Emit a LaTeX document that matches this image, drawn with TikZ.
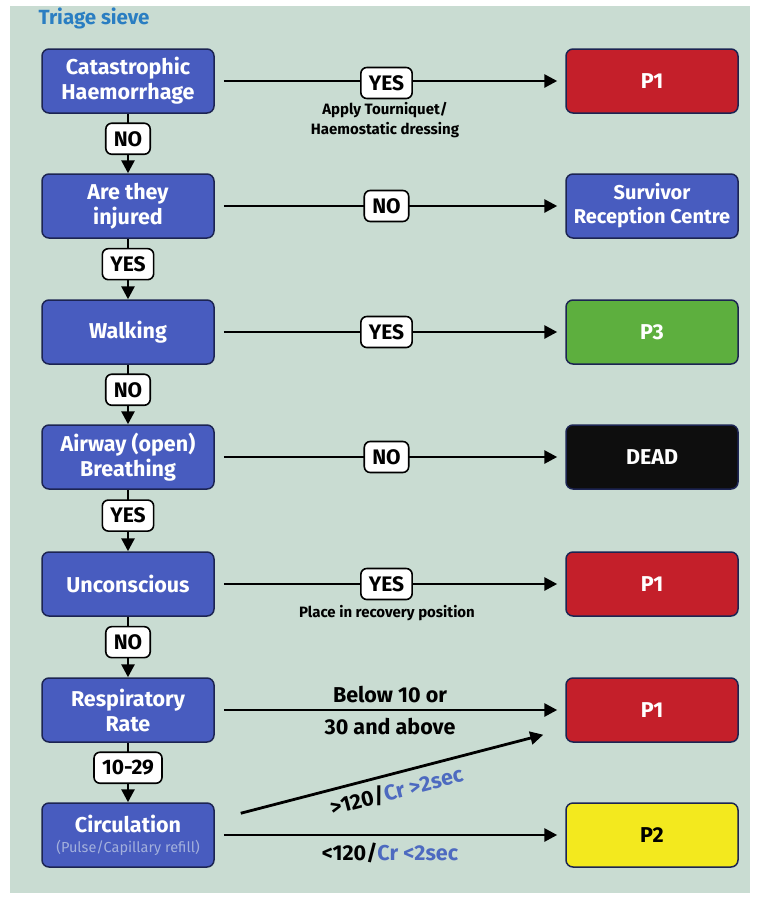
\documentclass[tikz,border=0pt]{standalone}
\usepackage{fontspec}
\setmainfont{Fira Sans}
\usetikzlibrary{arrows.meta,calc}
\definecolor{bg}{HTML}{C9DCD2}
\definecolor{qblue}{HTML}{485CBF}
\definecolor{boxline}{HTML}{1C2452}
\definecolor{pred}{HTML}{C41F2A}
\definecolor{pgreen}{HTML}{5DAF3E}
\definecolor{pyellow}{HTML}{F3E91E}
\definecolor{pblack}{HTML}{0E0E0E}
\definecolor{crblue}{HTML}{4D6AC0}
\definecolor{titleblue}{HTML}{2A7EC2}
\definecolor{subtxt}{HTML}{A3B0DC}
\tikzset{
  box/.style={rounded corners=7pt, draw=boxline, line width=1.5pt, minimum width=172pt, minimum height=64pt, align=center, font=\bfseries\fontsize{21.5}{25}\selectfont, text=white},
  qbox/.style={box, fill=qblue},
  lab/.style={draw=black, fill=white, rounded corners=6pt, line width=1.6pt, font=\bfseries\fontsize{21}{22}\selectfont, inner xsep=8pt, inner ysep=2pt, minimum height=31pt, text=black},
  arr/.style={line width=2.8pt, -{Triangle[length=13pt,width=13pt]}},
  harr/.style={arr, shorten <=9pt, shorten >=8pt},
  note/.style={font=\bfseries\fontsize{15}{20}\selectfont, align=center, text=black},
  big/.style={font=\bfseries\fontsize{21.5}{24}\selectfont, text=black}
}
\begin{document}
\begin{tikzpicture}[x=1pt,y=-1pt]
\useasboundingbox (0,0) rectangle (759,897);
\fill[white] (0,0) rectangle (759,897);
\fill[bg] (10,6) rectangle (750,893);
\node[anchor=west, text=titleblue, font=\bfseries\fontsize{20.5}{22}\selectfont] (title) at (35,18) {Triage sieve};

\node[qbox] (q1) at (128,81) {Catastrophic\\Haemorrhage};
\node[qbox] (q2) at (128,206) {Are they\\injured};
\node[qbox] (q3) at (128,332) {Walking};
\node[qbox] (q4) at (128,457) {Airway (open)\\Breathing};
\node[qbox] (q5) at (128,584) {Unconscious};
\node[qbox] (q6) at (128,710) {Respiratory\\Rate};
\node[qbox, align=center] (q7) at (128,835) {Circulation\\[-5pt]{\fontsize{14.5}{15}\selectfont\mdseries\color{subtxt}(Pulse/Capillary refill)}};

\node[box, fill=pred] (r1) at (652,81) {P1};
\node[qbox, font=\bfseries\fontsize{20}{24}\selectfont] (r2) at (652,206) {Survivor\\Reception Centre};
\node[box, fill=pgreen] (r3) at (652,332) {P3};
\node[box, fill=pblack] (r4) at (652,457) {DEAD};
\node[box, fill=pred] (r5) at (652,584) {P1};
\node[box, fill=pred] (r6) at (652,710) {P1};
\node[box, fill=pyellow, text=black] (r7) at (652,835) {P2};

\draw[arr] (q1) -- (q2) node[lab, pos=0.42] (l1) {NO};
\draw[arr] (q2) -- (q3) node[lab, pos=0.42] (l2) {YES};
\draw[arr] (q3) -- (q4) node[lab, pos=0.42] (l3) {NO};
\draw[arr] (q4) -- (q5) node[lab, pos=0.42] (l4) {YES};
\draw[arr] (q5) -- (q6) node[lab, pos=0.42] (l5) {NO};
\draw[arr] (q6) -- (q7) node[lab, pos=0.42] (l6) {10-29};

\draw[harr] (q1) -- (r1) node[lab, pos=0.49, yshift=-2pt] (h1) {YES};
\draw[harr] (q2) -- (r2) node[lab, pos=0.49] (h2) {NO};
\draw[harr] (q3) -- (r3) node[lab, pos=0.49] (h3) {YES};
\draw[harr] (q4) -- (r4) node[lab, pos=0.49] (h4) {NO};
\draw[harr] (q5) -- (r5) node[lab, pos=0.49] (h5) {YES};

\node[note, anchor=north] (n1) at (385,99) {Apply Tourniquet/\\Haemostatic dressing};
\node[note, anchor=north] (n2) at (387,602) {Place in recovery position};

\draw[harr] (q6) -- (r6)
  node[big, midway, above=2pt] (t1) {Below 10 or}
  node[big, midway, below=3pt] (t2) {30 and above};

\coordinate (d0) at ($(q7.north east)+(26,11)$);
\coordinate (d1) at ($(r6.south west)+(-22,-8)$);
\draw[arr] (d0) -- (d1) node[big, midway, sloped, below=3pt] (t3) {>120/\textcolor{crblue}{Cr >2sec}};

\draw[harr] (q7) -- (r7) node[big, midway, below=3pt] (t4) {<120/\textcolor{crblue}{Cr <2sec}};
\end{tikzpicture}
\end{document}
